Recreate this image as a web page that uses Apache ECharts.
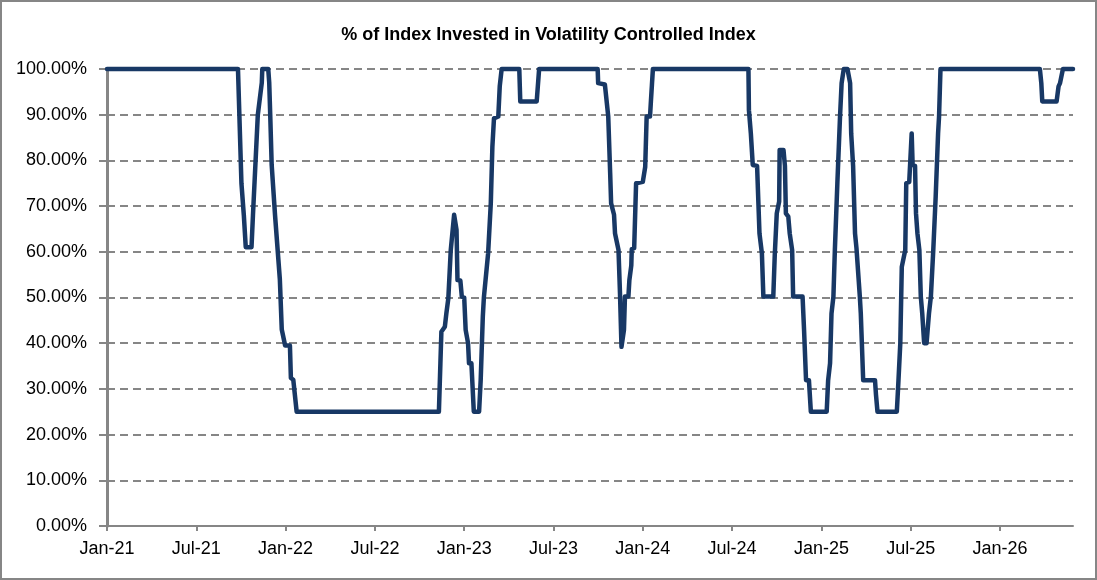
<!DOCTYPE html>
<html>
<head>
<meta charset="utf-8">
<title>% of Index Invested in Volatility Controlled Index</title>
<script src="https://cdn.jsdelivr.net/npm/echarts@6/dist/echarts.min.js"></script>
<style>
  html, body { margin: 0; padding: 0; background: #fff; }
  #main { width: 1097px; height: 580px; }
</style>
</head>
<body>
<div id="main"></div>
<script>
var dates = [
  '2021-01-01', '2021-09-25', '2021-10-02', '2021-10-07', '2021-10-11', '2021-10-23', '2021-10-26', '2021-11-05',
  '2021-11-13', '2021-11-14', '2021-11-26', '2021-11-28', '2021-11-30', '2021-12-03', '2021-12-10', '2021-12-20',
  '2021-12-24', '2021-12-31', '2022-01-10', '2022-01-12', '2022-01-17', '2022-01-24', '2022-11-10', '2022-11-13',
  '2022-11-15', '2022-11-22', '2022-11-25', '2022-11-29', '2022-12-04', '2022-12-07', '2022-12-11', '2022-12-16',
  '2022-12-18', '2022-12-24', '2022-12-27', '2023-01-01', '2023-01-04', '2023-01-09', '2023-01-11', '2023-01-16',
  '2023-01-21', '2023-02-01', '2023-02-04', '2023-02-08', '2023-02-10', '2023-02-13', '2023-02-18', '2023-02-23',
  '2023-02-26', '2023-03-01', '2023-03-10', '2023-03-13', '2023-03-17', '2023-04-22', '2023-04-24', '2023-05-28',
  '2023-06-02', '2023-09-30', '2023-10-01', '2023-10-15', '2023-10-22', '2023-10-26', '2023-10-28', '2023-11-03',
  '2023-11-05', '2023-11-12', '2023-11-15', '2023-11-18', '2023-11-23', '2023-11-25', '2023-12-02', '2023-12-04',
  '2023-12-08', '2023-12-09', '2023-12-14', '2023-12-18', '2024-01-01', '2024-01-06', '2024-01-09', '2024-01-16',
  '2024-01-18', '2024-01-22', '2024-08-04', '2024-08-05', '2024-08-09', '2024-08-13', '2024-08-22', '2024-08-27',
  '2024-09-01', '2024-09-04', '2024-09-24', '2024-09-27', '2024-10-01', '2024-10-06', '2024-10-07', '2024-10-15',
  '2024-10-18', '2024-10-20', '2024-10-25', '2024-10-28', '2024-11-02', '2024-11-04', '2024-11-23', '2024-11-26',
  '2024-11-30', '2024-12-06', '2024-12-10', '2025-01-12', '2025-01-15', '2025-01-19', '2025-01-22', '2025-01-26',
  '2025-01-29', '2025-02-03', '2025-02-08', '2025-02-11', '2025-02-15', '2025-02-22', '2025-02-27', '2025-03-01',
  '2025-03-05', '2025-03-09', '2025-03-12', '2025-03-19', '2025-03-21', '2025-03-26', '2025-04-19', '2025-04-21',
  '2025-04-24', '2025-06-03', '2025-06-06', '2025-06-10', '2025-06-13', '2025-06-20', '2025-06-22', '2025-06-28',
  '2025-07-03', '2025-07-05', '2025-07-10', '2025-07-12', '2025-07-15', '2025-07-19', '2025-07-22', '2025-07-25',
  '2025-07-29', '2025-08-03', '2025-08-08', '2025-08-12', '2025-08-17', '2025-08-22', '2025-08-27', '2025-08-29',
  '2025-09-01', '2026-03-22', '2026-03-25', '2026-03-27', '2026-04-25', '2026-04-29', '2026-05-02', '2026-05-08',
  '2026-05-29'
];
var pctInvested = [
  100, 100, 75, 68, 61, 61, 68, 90,
  97, 100, 100, 97, 90, 79, 68, 54,
  43, 39.5, 39.5, 32.4, 32, 25, 25, 35.6,
  42.5, 43.6, 46.5, 49.8, 60.4, 60.6, 68.1, 64.8,
  53.8, 53.7, 50.2, 50, 42.9, 40, 35.6, 35.6,
  25, 25, 31.9, 45.8, 50, 50.2, 59.7, 70.6,
  83, 89.2, 89.6, 96.2, 100, 100, 92.9, 92.9,
  100, 100, 96.9, 96.6, 89.6, 77.2, 70.6, 68.1,
  64, 60.4, 50.9, 39.2, 42.9, 50.2, 50.2, 53.8,
  57, 60.6, 60.8, 75, 75.3, 78.6, 89.6, 89.6,
  93.2, 100, 100, 91, 85.9, 79, 78.8, 64,
  59.7, 50.2, 50.2, 59.4, 68.4, 71, 82.3, 82.3,
  78.8, 68.4, 67.7, 64, 60.4, 50.2, 50.2, 42.9,
  31.9, 31.9, 25, 25, 31.9, 35.6, 46.5, 50.2,
  60.4, 75, 89.6, 96.9, 100, 100, 96.9, 85.9,
  78.8, 64, 60.8, 50.2, 46.5, 31.9, 31.9, 28.7,
  25, 25, 31.2, 40, 56.7, 60.4, 75, 75.3,
  85.9, 79, 78.8, 68.4, 64, 60.4, 50.2, 46.5,
  40, 40, 46.5, 50.2, 60.4, 72.1, 85.9, 89.6,
  100, 100, 96.9, 92.9, 92.9, 96.2, 96.9, 100,
  100
];
var tickLabels = ['Jan-21', 'Jul-21', 'Jan-22', 'Jul-22', 'Jan-23', 'Jul-23',
                  'Jan-24', 'Jul-24', 'Jan-25', 'Jul-25', 'Jan-26'];

// months since Jan 2021 (fractional), so the axis ticks fall every 6 months
function monthsSince(d) {
  var p = d.split('-').map(Number);
  var dim = new Date(p[0], p[1], 0).getDate();
  return (p[0] - 2021) * 12 + (p[1] - 1) + (p[2] - 1) / dim;
}

var seriesData = dates.map(function (d, i) { return [monthsSince(d), pctInvested[i]]; });
var tickPos = tickLabels.map(function (t, i) { return i * 6; });

var gray = '#868686';
var font = '"Liberation Sans", Arial, sans-serif';

var chart = echarts.init(document.getElementById('main'));
chart.setOption({
  backgroundColor: '#ffffff',
  animation: false,
  title: {
    text: '% of Index Invested in Volatility Controlled Index',
    left: 'center',
    top: 21,
    textStyle: { fontFamily: font, fontSize: 18, fontWeight: 'bold', color: '#000' }
  },
  graphic: [{
    type: 'rect',
    shape: { x: 1, y: 1, width: 1095, height: 578 },
    style: { fill: 'none', stroke: gray, lineWidth: 2 },
    silent: true
  }],
  grid: { left: 107, right: 24, top: 69, bottom: 54, containLabel: false },
  xAxis: {
    type: 'value',
    min: 0,
    max: seriesData[seriesData.length - 1][0],
    axisLine: { show: true, lineStyle: { color: gray, width: 2 } },
    axisTick: { show: true, length: 5, lineStyle: { color: gray, width: 2 }, customValues: tickPos },
    axisLabel: {
      customValues: tickPos,
      margin: 14,
      fontFamily: font,
      fontSize: 18,
      color: '#000',
      formatter: function (v) { return tickLabels[Math.round(v / 6)]; }
    },
    splitLine: { show: false }
  },
  yAxis: {
    type: 'value',
    min: 0,
    max: 100,
    interval: 10,
    axisLine: { show: true, lineStyle: { color: gray, width: 3 } },
    axisTick: { show: true, length: 8, lineStyle: { color: gray, width: 2 } },
    axisLabel: {
      margin: 20,
      fontFamily: font,
      fontSize: 18,
      color: '#000',
      formatter: function (v) { return v.toFixed(2) + '%'; }
    },
    splitLine: { show: true, lineStyle: { color: gray, width: 2, type: [8, 5] } }
  },
  series: [{
    type: 'line',
    data: seriesData,
    showSymbol: false,
    clip: false,
    lineStyle: { color: '#183865', width: 4.5, cap: 'round', join: 'round' }
  }]
});
</script>
</body>
</html>
